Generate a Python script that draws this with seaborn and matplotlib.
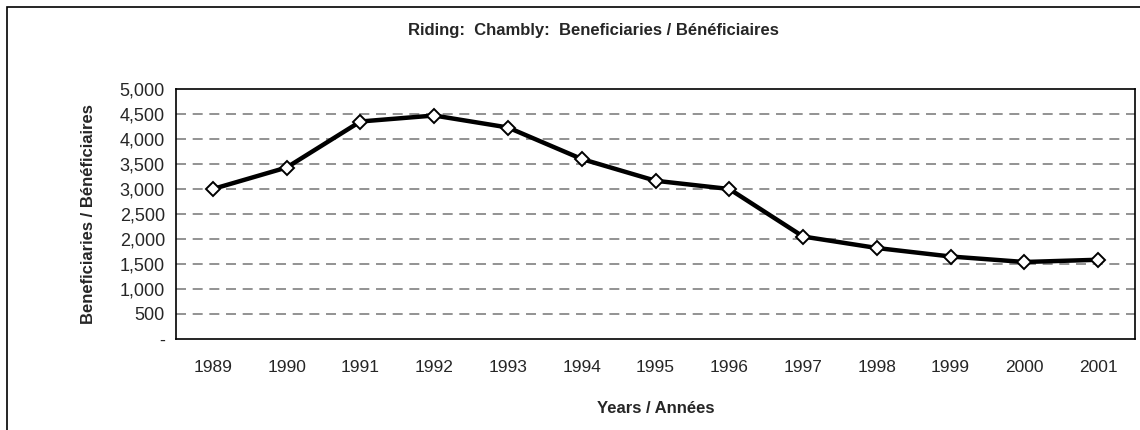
import pandas as pd
import matplotlib.pyplot as plt
import matplotlib.ticker as mticker
from matplotlib.patches import Rectangle
import seaborn as sns

# Données
years = ['1989', '1990', '1991', '1992', '1993', '1994', '1995',
         '1996', '1997', '1998', '1999', '2000', '2001']
beneficiaries = [3000, 3430, 4350, 4470, 4230, 3600, 3165,
                 3000, 2050, 1820, 1650, 1540, 1585]

df = pd.DataFrame({'Year': years, 'Beneficiaries': beneficiaries})

sns.set_style('white')
plt.rcParams['font.family'] = ['Liberation Sans', 'DejaVu Sans']

fig = plt.figure(figsize=(11.4, 4.3), dpi=100)
ax = fig.add_axes([176 / 1140, 1 - 339 / 430, (1135 - 176) / 1140, (339 - 89) / 430])

# cadre extérieur
fig.patches.append(Rectangle((7 / 1140, -0.1), 1.2, 1 - 7 / 430 + 0.1,
                             transform=fig.transFigure, fill=False,
                             edgecolor='black', linewidth=1.2))

sns.lineplot(data=df, x='Year', y='Beneficiaries', ax=ax, color='black',
             linewidth=3.2, marker='D', markersize=7.5, markerfacecolor='white',
             markeredgecolor='black', markeredgewidth=1.4, zorder=3)

ax.set_xlim(-0.5, len(years) - 0.5)
ax.set_ylim(0, 5000)
ax.yaxis.set_major_locator(mticker.MultipleLocator(500))
ax.yaxis.set_major_formatter(mticker.FuncFormatter(
    lambda v, p: '-' if v == 0 else f'{int(v):,}'))
ax.xaxis.set_major_locator(mticker.FixedLocator(range(len(years))))
ax.xaxis.set_minor_locator(mticker.FixedLocator([i - 0.5 for i in range(len(years) + 1)]))
ax.tick_params(axis='x', which='major', length=0, labelsize=12.5, pad=15)
ax.tick_params(axis='x', which='minor', length=5, width=1, direction='out')
ax.tick_params(axis='y', length=4, width=1, direction='inout', labelsize=13, pad=6)

for v in range(500, 5000, 500):
    ax.axhline(v, color='#808080', linestyle=(0, (6, 4)), linewidth=1.2, zorder=1)

for s in ax.spines.values():
    s.set_visible(True)
    s.set_color('black')
    s.set_linewidth(1.2)

ax.set_xlabel('Years / Années', fontsize=12, fontweight='bold', labelpad=19)
ax.set_ylabel('Beneficiaries / Bénéficiaires', fontsize=12, fontweight='bold', labelpad=17)

fig.text(593 / 1140, 1 - 31 / 430, 'Riding:  Chambly:  Beneficiaries / Bénéficiaires',
         ha='center', va='center', fontsize=12, fontweight='bold')

fig.savefig('out.png', dpi=100)
